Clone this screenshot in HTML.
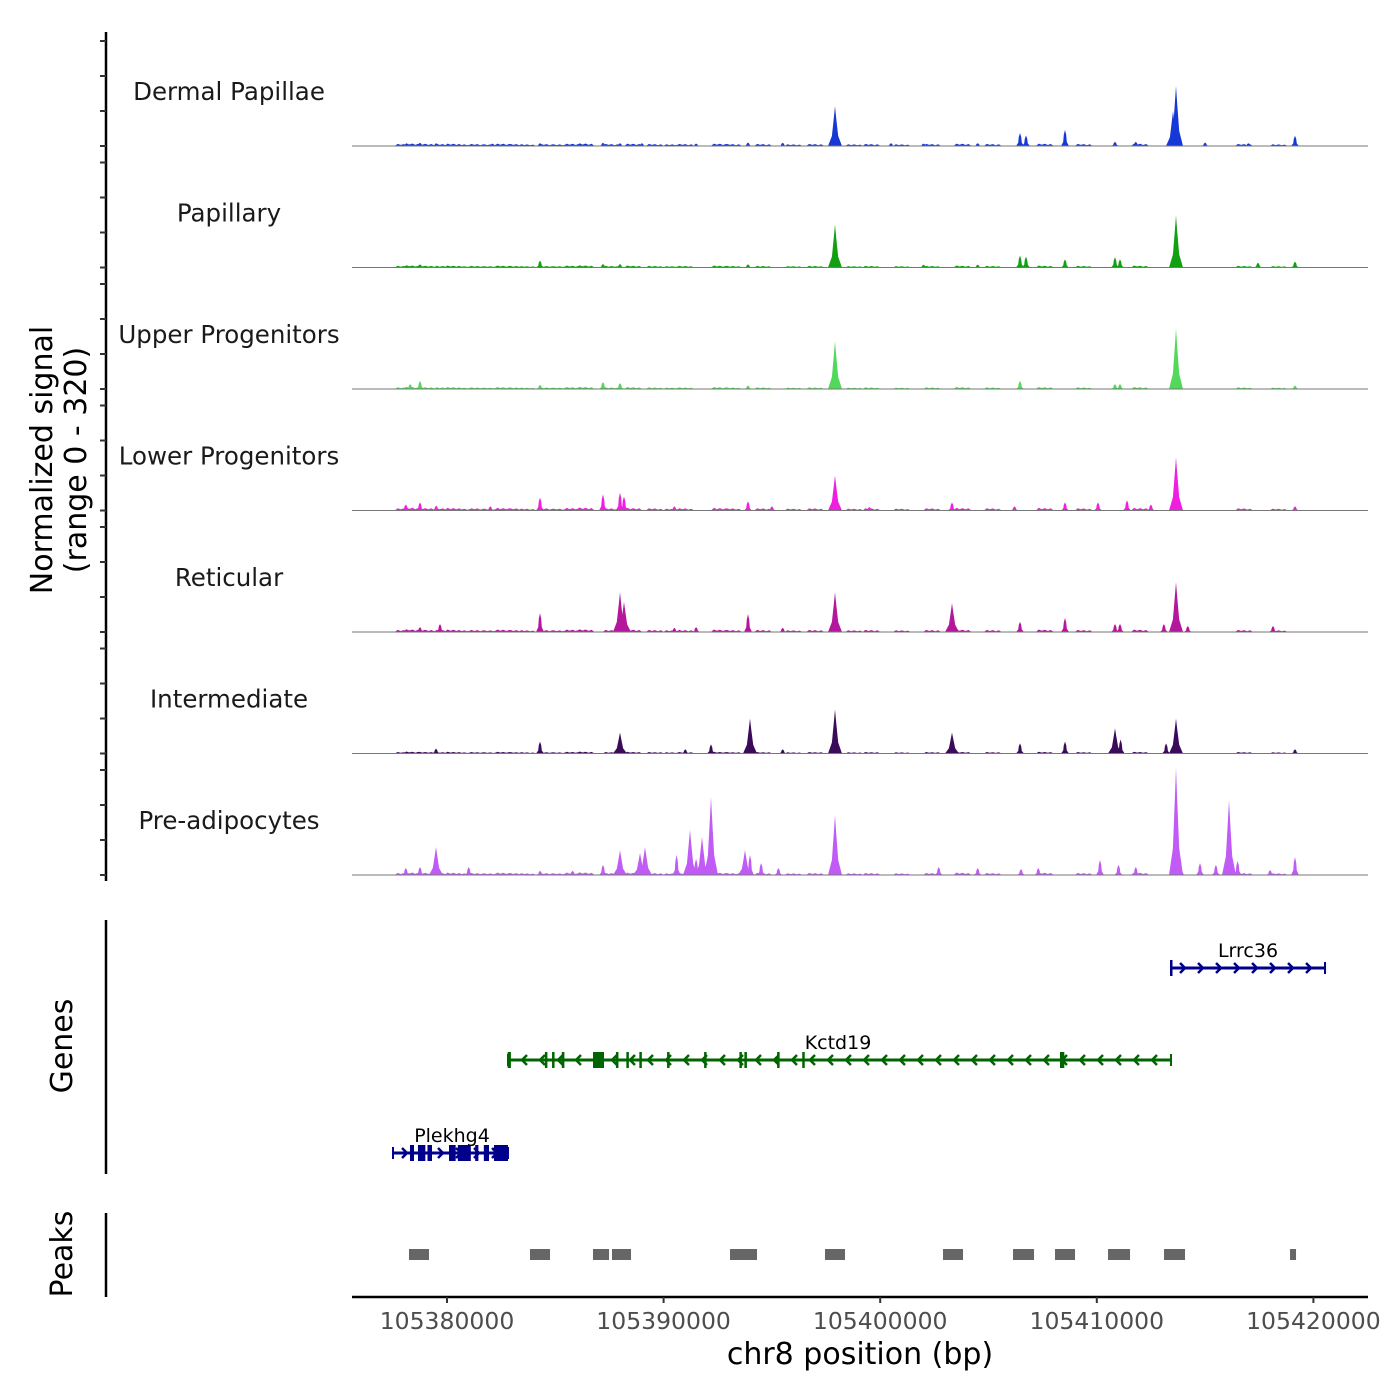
<!DOCTYPE html>
<html><head><meta charset="utf-8">
<style>
html,body{margin:0;padding:0;background:#fff;}
svg{display:block;font-family:"DejaVu Sans","Liberation Sans",sans-serif;}
</style></head>
<body>
<svg id="chart" width="1400" height="1400" viewBox="0 0 1400 1400" xmlns="http://www.w3.org/2000/svg">
<g id="signal"></g>
<g id="genes"></g>
<g id="peaks"></g>
<g id="axes"></g>
</svg>
<script>
const NS="http://www.w3.org/2000/svg";
const BASE=105380000;
const trackNames=["Dermal Papillae","Papillary","Upper Progenitors","Lower Progenitors","Reticular","Intermediate","Pre-adipocytes"];
const trackColors=["#1538d6","#12a012","#52d85a","#f01ee0","#b4169c","#3b0a5a","#c05cf5"];
// peak positions (bp offset from 105380000) and heights (signal units, range 0-320)
const pos0=[17914,33658,33520,26455,26732,28533,39152,30841,4294,7203,7987,13897,-1247,-500,2100,9000,11500,15500,20500,22000,24500,31800,35000,37000];
const val0=[114,172,100,37,30,46,29,12,8,9,8,10,9,8,7,8,7,9,8,7,8,12,10,8];
const pos1=[17914,33658,26455,26732,28533,30841,31072,4294,39152,37444,-1247,7203,7987,13897,22000,24500];
const val1=[123,149,34,31,23,29,23,20,17,14,9,10,10,9,8,8];
const pos2=[17914,33658,-1247,26455,7203,7987,30841,31072,4294,13897,39152,-1700];
const val2=[137,172,23,23,20,17,14,14,12,10,10,14];
const pos3=[17914,33658,4294,7203,7987,8172,31396,30057,28533,23316,13897,-1247,-1900,-500,2000,10500,15000,19500,26200,32500,39152];
const val3=[100,152,37,46,51,40,29,23,23,23,26,23,17,14,12,12,12,10,12,17,12];
const pos4=[17914,33658,7987,8172,4294,23316,13897,28533,26455,30841,31072,38136,-323,-1247,10500,11500,15500,33100,34200];
const val4=[114,143,114,86,54,83,51,40,29,23,23,17,23,14,12,14,12,23,17];
const pos5=[17914,13990,33658,7987,23316,4294,30841,31100,28533,26455,12189,-508,11000,15500,39152,33200];
const val5=[126,100,100,60,60,34,72,40,34,29,26,14,12,12,12,29];
const pos6=[33658,12189,36105,17914,11219,11773,9142,8911,7987,-508,13759,13990,39152,30149,33843,34766,7203,-1247,-1900,1000,10600,11500,14500,15300,22700,24500,26500,27300,31000,31800,35500,36500,38000,4294,5800];
const val6=[306,223,214,171,129,109,80,63,71,80,71,57,51,43,51,34,29,23,20,23,57,46,34,20,23,20,17,20,29,23,29,40,14,12,12];
// low background signal (bp offsets and heights)
const nX=[-2000,-1600,-1000,-700,-200,300,800,1400,2000,2600,3200,3700,4600,5200,5800,6400,7600,8600,9600,10400,11000,12600,13200,14600,16000,17000,18800,19600,21000,22400,23800,25200,27600,29400,32000,36800,38400];
const nY=[6,8,7,5,6,7,5,6,5,7,6,5,6,5,7,8,6,7,6,5,6,7,6,6,5,6,5,6,5,6,7,6,7,6,7,6,5];
const trackNoiseScale=[1,0.8,0.8,1.1,1,0.7,1];
const trackPos=[pos0,pos1,pos2,pos3,pos4,pos5,pos6];
const trackVal=[val0,val1,val2,val3,val4,val5,val6];
// genes
const geneNames=["Lrrc36","Kctd19","Plekhg4"];
const geneStart=[33427,2816,-2493];
const geneEnd=[40537,33427,2816];
const geneStrand=[1,-1,1];
const geneExonStart=[[33380],[2800,4520,4850,5300,6741,7800,8280,8880,10160,11870,13500,13730,15240,16400,28300],[-1708,-1339,-900,92,500,1300,1700,2170]];
const geneExonEnd=[[33480],[2950,4620,4960,5420,7249,7900,8360,8960,10260,11970,13560,13790,15340,16500,28500],[-1524,-1000,-693,400,1100,1450,1939,2816]];
// peaks
const peakStart=[-1754,3832,6741,7618,13066,17452,22900,26132,28071,30518,33104,38921];
const peakEnd=[-831,4756,7480,8495,14313,18376,23824,27102,28995,31534,34073,39198];
const xTicks=[105380000,105390000,105400000,105410000,105420000];

const X0=447, PXPER=216.6/10000;
function xs(off){return X0+off*PXPER;}
function xsAbs(bp){return X0+(bp-BASE)*PXPER;}
const baselines=[146,267.5,389,510.5,632,753.5,875];
const PXUNIT=35/100;
function el(tag,attrs,parent){const e=document.createElementNS(NS,tag);for(const k in attrs)e.setAttribute(k,attrs[k]);parent.appendChild(e);return e;}

const sig=document.getElementById('signal');
for(let t=0;t<7;t++){
  const g=el('g',{},sig);
  
  
  const b=baselines[t];
  const lab=el('text',{x:229,y:b-46,'text-anchor':'middle','font-size':24.5,fill:'#1a1a1a'},g);
  lab.textContent=trackNames[t];
  
  
  for(let i=0;i<nX.length;i++){
    const x=xs(nX[i]), h=nY[i]*trackNoiseScale[t]*PXUNIT;
    const n=el('polygon',{points:`${(x-9).toFixed(1)},${b} ${(x-6).toFixed(1)},${(b-h).toFixed(1)} ${(x-3).toFixed(1)},${(b-h*0.5).toFixed(1)} ${x.toFixed(1)},${(b-h*0.9).toFixed(1)} ${(x+3).toFixed(1)},${(b-h*0.4).toFixed(1)} ${(x+6).toFixed(1)},${(b-h*0.8).toFixed(1)} ${(x+9).toFixed(1)},${b}`,fill:trackColors[t]},g);
    
    
  }
  const pp=trackPos[t], vv=trackVal[t];
  for(let i=0;i<pp.length;i++){
    const x=xs(pp[i]), h=vv[i]*PXUNIT;
    const w=h>20?7:4;
    const pts=[[x-w,b],[x-w*0.45,b-h*0.25],[x-1.2,b-h*0.7],[x,b-h],[x+1.2,b-h*0.7],[x+w*0.45,b-h*0.25],[x+w,b]];
    const p=el('polygon',{points:pts.map(q=>q[0].toFixed(1)+','+q[1].toFixed(1)).join(' '),fill:trackColors[t]},g);
    
    
  }
  const bl=el('line',{x1:352,x2:1368,y1:b,y2:b,stroke:'#777','stroke-width':1},g);
  
  
}

// genes
const gg=document.getElementById('genes');
const geneY=[968,1060,1153];
const geneColors=["#00008b","#006400","#00008b"];
for(let i=0;i<3;i++){
  const g=el('g',{},gg);
  
  
  const y=geneY[i], c=geneColors[i];
  const x1=xs(geneStart[i]), x2=xs(geneEnd[i]);
  el('line',{x1:x1,x2:x2,y1:y,y2:y,stroke:c,'stroke-width':3},g);
  for(let x=x1+14;x<x2-6;x+=18){
    const d=geneStrand[i]*5;
    el('polyline',{points:`${x-d},${y-5} ${x},${y} ${x-d},${y+5}`,fill:'none',stroke:c,'stroke-width':2.5},g);
  }
  el('line',{x1:x1,x2:x1,y1:y-6,y2:y+6,stroke:c,'stroke-width':2},g);
  el('line',{x1:x2,x2:x2,y1:y-6,y2:y+6,stroke:c,'stroke-width':2},g);
  for(let k=0;k<geneExonStart[i].length;k++){
    const a=xs(geneExonStart[i][k]), e=xs(geneExonEnd[i][k]);
    const r=el('rect',{x:a,y:y-8,width:Math.max(2.5,e-a),height:16,fill:c},g);
    
    
  }
  const lx=i===0?1248:(i===1?838:452);
  const t=el('text',{x:lx,y:y-11,'text-anchor':'middle','font-size':19,fill:'#000'},g);
  t.textContent=geneNames[i];
  
  
}

// peaks
const pk=document.getElementById('peaks');
for(let i=0;i<peakStart.length;i++){
  const a=xs(peakStart[i]), e=xs(peakEnd[i]);
  const r=el('rect',{x:a,y:1249,width:e-a,height:11,fill:'#666'},pk);
  
  
}

// axes
const ax=document.getElementById('axes');
el('line',{x1:106,x2:106,y1:32,y2:881,stroke:'#000','stroke-width':2.5},ax);
for(let t=0;t<7;t++){for(let k=0;k<4;k++){const y=baselines[t]-k*35;el('line',{x1:100,x2:106,y1:y,y2:y,stroke:'#333','stroke-width':2},ax);}}
el('line',{x1:106,x2:106,y1:920,y2:1174,stroke:'#000','stroke-width':2.5},ax);
el('line',{x1:106,x2:106,y1:1213,y2:1297,stroke:'#000','stroke-width':2.5},ax);
el('line',{x1:352,x2:1368,y1:1297,y2:1297,stroke:'#000','stroke-width':2.5},ax);
for(const v of xTicks){
  const x=xsAbs(v);
  el('line',{x1:x,x2:x,y1:1297,y2:1303,stroke:'#333','stroke-width':2},ax);
  const t=el('text',{x:x,y:1329,'text-anchor':'middle','font-size':23.5,fill:'#4d4d4d'},ax);
  t.textContent=String(v);
  
  
}
const xt=el('text',{x:860,y:1364,'text-anchor':'middle','font-size':30,fill:'#000'},ax);
xt.textContent='chr8 position (bp)';


const yt=el('text',{transform:'translate(52,460) rotate(-90)','text-anchor':'middle','font-size':30,fill:'#000'},ax);


const s1=el('tspan',{x:0,y:0},yt); s1.textContent='Normalized signal';
const s2=el('tspan',{x:0,y:34},yt); s2.textContent='(range 0 - 320)';
const gt=el('text',{transform:'translate(72,1046) rotate(-90)','text-anchor':'middle','font-size':30,fill:'#000'},ax);
gt.textContent='Genes';


const pt=el('text',{transform:'translate(72,1254) rotate(-90)','text-anchor':'middle','font-size':30,fill:'#000'},ax);
pt.textContent='Peaks';


</script>
</body></html>
